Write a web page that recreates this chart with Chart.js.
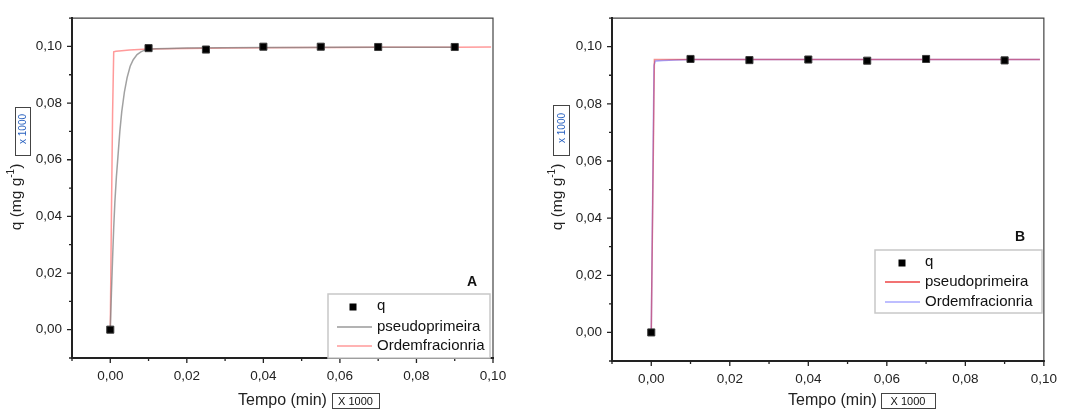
<!DOCTYPE html>
<html>
<head>
<meta charset="utf-8">
<script src="https://cdn.jsdelivr.net/npm/chart.js@4"></script>
<style>
  html, body { margin:0; padding:0; background:#fff; }
  #wrap { position:relative; width:1067px; height:415px; overflow:hidden; }
  #cA { position:absolute; left:0; top:0; }
  #cB { position:absolute; left:540px; top:0; }
</style>
</head>
<body>
<div id="wrap">
  <canvas id="cA" width="533" height="415"></canvas>
  <canvas id="cB" width="527" height="415"></canvas>
</div>
<script>
// Panel A data (time in min x1000, q in mg/g x1000)
const qTimeA = [0, 0.010, 0.025, 0.040, 0.055, 0.070, 0.090];
const qValA  = [0, 0.0994, 0.0989, 0.0999, 0.0999, 0.0998, 0.0998];
const pseudoTimeA = [0, 0.0003, 0.0006, 0.0009, 0.0012, 0.0016, 0.002, 0.0025, 0.003, 0.0037, 0.0044, 0.0052, 0.006, 0.007, 0.008, 0.009, 0.010, 0.012, 0.015, 0.02, 0.03, 0.04, 0.05, 0.06, 0.07, 0.08, 0.09];
const pseudoValA  = [0, 0.013, 0.025, 0.036, 0.045, 0.054, 0.061, 0.070, 0.077, 0.084, 0.089, 0.093, 0.0953, 0.0971, 0.0981, 0.0987, 0.0990, 0.0992, 0.0993, 0.0994, 0.0995, 0.0996, 0.0996, 0.0997, 0.0997, 0.0997, 0.0997];
const fracTimeA = [0, 0.0003, 0.0006, 0.0009, 0.0015, 0.003, 0.005, 0.0075, 0.010, 0.015, 0.02, 0.03, 0.04, 0.05, 0.06, 0.07, 0.08, 0.09, 0.0995];
const fracValA  = [0, 0.040, 0.076, 0.0981, 0.0983, 0.0985, 0.0987, 0.0989, 0.0991, 0.0992, 0.0993, 0.0994, 0.0995, 0.0996, 0.0996, 0.0997, 0.0997, 0.0997, 0.0998];

// Panel B data
const qTimeB = [0, 0.010, 0.025, 0.040, 0.055, 0.070, 0.090];
const qValB  = [0, 0.0957, 0.0953, 0.0955, 0.0951, 0.0957, 0.0952];
const pseudoTimeB = [0, 0.0008, 0.005, 0.02, 0.04, 0.06, 0.08, 0.099];
const pseudoValB  = [0, 0.0955, 0.0955, 0.0955, 0.0955, 0.0955, 0.0955, 0.0955];
const fracTimeB = [0, 0.0007, 0.001, 0.003, 0.006, 0.010, 0.03, 0.06, 0.099];
const fracValB  = [0, 0.0935, 0.0950, 0.0952, 0.0953, 0.0955, 0.0955, 0.0955, 0.0955];

const legendLabels = ['q', 'pseudoprimeira', 'Ordemfracionria'];
const FONT = '"Liberation Sans", Arial, sans-serif';

function pts(xs, ys){ return xs.map((x,i)=>({x, y:ys[i]})); }
function fmt(v){
  if(Math.abs(Math.round(v*100)) % 2 !== 0) return '';
  if(Math.abs(v) < 1e-9) return '0,00';
  return v.toFixed(2).replace('.', ',');
}

function yTitle(ctx, cx, cy){
  ctx.save();
  ctx.translate(cx, cy);
  ctx.rotate(-Math.PI/2);
  ctx.textAlign = 'left';
  const f = '15.5px ' + FONT, fs = '10px ' + FONT;
  ctx.font = f;
  const w1 = ctx.measureText('q (mg g').width, w3 = ctx.measureText(')').width;
  ctx.font = fs;
  const w2 = ctx.measureText('-1').width;
  let x = -(w1 + w2 + w3) / 2;
  ctx.textBaseline = 'middle';
  ctx.fillStyle = '#222';
  ctx.font = f;  ctx.fillText('q (mg g', x, 0); x += w1;
  ctx.font = fs; ctx.fillText('-1', x, -6);    x += w2;
  ctx.font = f;  ctx.fillText(')', x, 0);
  ctx.restore();
}

function decorPlugin(p){
  return {
    id:'decor',
    afterDraw(chart){
      const ctx = chart.ctx, a = chart.chartArea;
      const xs = chart.scales.x, ys = chart.scales.y;
      ctx.save();
      // frame
      ctx.strokeStyle = '#444'; ctx.lineWidth = 1.2;
      ctx.beginPath();
      ctx.moveTo(a.left, a.top); ctx.lineTo(a.right, a.top); ctx.lineTo(a.right, a.bottom);
      ctx.stroke();
      // axis lines
      ctx.strokeStyle = '#222'; ctx.lineWidth = 2;
      ctx.beginPath();
      ctx.moveTo(a.left, a.top - 1); ctx.lineTo(a.left, a.bottom); ctx.lineTo(a.right + 1, a.bottom);
      ctx.stroke();
      // ticks (major 0.02, minor 0.01)
      ctx.lineWidth = 1.3;
      ctx.beginPath();
      xs.ticks.forEach(t=>{
        const px = xs.getPixelForValue(t.value);
        const len = fmt(t.value) ? 5 : 3;
        ctx.moveTo(px, a.bottom); ctx.lineTo(px, a.bottom + len);
      });
      ys.ticks.forEach(t=>{
        const py = ys.getPixelForValue(t.value);
        const len = fmt(t.value) ? 5 : 3;
        ctx.moveTo(a.left, py); ctx.lineTo(a.left - len, py);
      });
      ctx.stroke();

      // legend
      const L = p.legend;
      ctx.fillStyle = '#fff';
      ctx.fillRect(L.x, L.y, L.w, L.h);
      ctx.strokeStyle = '#c8c8c8'; ctx.lineWidth = 1.5;
      ctx.strokeRect(L.x, L.y, L.w, L.h);
      ctx.font = '15px ' + FONT; ctx.textBaseline = 'middle'; ctx.textAlign = 'left';
      ctx.fillStyle = '#000';
      ctx.fillRect(L.marker - 3.5, L.rows[0] - 3.5, 7, 7);
      ctx.lineWidth = 1.3;
      ctx.strokeStyle = p.col1; ctx.beginPath(); ctx.moveTo(L.l1, L.rows[1]); ctx.lineTo(L.l2, L.rows[1]); ctx.stroke();
      ctx.strokeStyle = p.col2; ctx.beginPath(); ctx.moveTo(L.l1, L.rows[2]); ctx.lineTo(L.l2, L.rows[2]); ctx.stroke();
      ctx.fillStyle = '#111';
      legendLabels.forEach((s,i)=> ctx.fillText(s, L.tx, L.rows[i] + (i===0 ? -1 : 0)));

      // panel letter
      ctx.font = 'bold 14px ' + FONT; ctx.textAlign = 'center';
      ctx.fillText(p.letter, p.letterX, p.letterY);

      // axis titles
      yTitle(ctx, p.yTitleX, 197);
      ctx.font = '16px ' + FONT; ctx.textAlign = 'left'; ctx.textBaseline = 'middle'; ctx.fillStyle = '#222';
      ctx.fillText('Tempo (min)', p.xTitleX, 401);

      // x multiplier box
      const B = p.xBox;
      ctx.strokeStyle = '#444'; ctx.lineWidth = 1;
      ctx.strokeRect(B.x + 0.5, B.y + 0.5, B.w, B.h);
      ctx.font = '11px ' + FONT; ctx.textAlign = 'center'; ctx.fillStyle = '#111';
      ctx.fillText('X 1000', B.x + B.w/2, B.y + B.h/2 + 1);

      // y multiplier box
      const Y = p.yBox;
      ctx.strokeRect(Y.x + 0.5, Y.y + 0.5, Y.w, Y.h);
      ctx.save();
      ctx.beginPath(); ctx.rect(Y.x + 1, Y.y + 1, Y.w - 1, Y.h - 1); ctx.clip();
      ctx.translate(Y.x + Y.w/2 + 1, Y.y + Y.h/2);
      ctx.rotate(-Math.PI/2);
      ctx.font = '10px ' + FONT; ctx.fillStyle = '#2a62c0';
      ctx.fillText('x 1000', 2, 0);
      ctx.restore();
      ctx.restore();
    }
  };
}

function makeChart(id, p){
  const tickFont = {family: FONT, size: 13.5};
  return new Chart(document.getElementById(id), {
    type: 'scatter',
    data: {
      datasets: [
        {label: legendLabels[0], data: pts(p.qT, p.qV), pointStyle: 'rect', pointRadius: 5,
         backgroundColor: '#000', borderColor: '#3a3a3a', borderWidth: 1, order: 0},
        {label: legendLabels[1], data: pts(p.l1T, p.l1V), showLine: true, pointRadius: 0,
         borderColor: p.col1Line, borderWidth: 1.5, order: p.order1},
        {label: legendLabels[2], data: pts(p.l2T, p.l2V), showLine: true, pointRadius: 0,
         borderColor: p.col2Line, borderWidth: 1.5, order: p.order2}
      ]
    },
    options: {
      responsive: false,
      animation: false,
      layout: {padding: {left: 0, right: p.padRight, top: p.padTop, bottom: 0}},
      plugins: {legend: {display: false}, tooltip: {enabled: false}},
      scales: {
        x: {type: 'linear', min: -0.01, max: 0.10,
            ticks: {stepSize: 0.01, autoSkip: false, maxRotation: 0, padding: 10, color: '#222', font: tickFont, callback: fmt},
            grid: {display: false, drawTicks: false}, border: {display: false},
            afterFit: s => { s.height = p.xH; }},
        y: {type: 'linear', min: -0.01, max: 0.11,
            ticks: {stepSize: 0.01, autoSkip: false, padding: 10, color: '#222', font: tickFont, callback: fmt},
            grid: {display: false, drawTicks: false}, border: {display: false},
            afterFit: s => { s.width = 72; }}
      }
    },
    plugins: [decorPlugin(p)]
  });
}

makeChart('cA', {
  qT: qTimeA, qV: qValA, l1T: pseudoTimeA, l1V: pseudoValA, l2T: fracTimeA, l2V: fracValA,
  col1: '#9a9a9a', col2: '#ff9a9a',
  col1Line: 'rgba(130,130,130,0.75)', col2Line: 'rgba(255,120,120,0.75)',
  order1: 1, order2: 2,
  padRight: 40, padTop: 13, xH: 57,
  legend: {x: 328, y: 294, w: 162, h: 64, rows: [307, 327, 346], marker: 353, l1: 337, l2: 372, tx: 377},
  letter: 'A', letterX: 472, letterY: 282,
  yTitleX: 17, xTitleX: 238,
  xBox: {x: 332, y: 393, w: 47, h: 15},
  yBox: {x: 15, y: 107, w: 15, h: 48}
});

makeChart('cB', {
  qT: qTimeB, qV: qValB, l1T: pseudoTimeB, l1V: pseudoValB, l2T: fracTimeB, l2V: fracValB,
  col1: '#ee4444', col2: '#a8a8ff',
  col1Line: 'rgba(230,40,40,0.5)', col2Line: 'rgba(150,150,255,0.9)',
  order1: 1, order2: 2,
  padRight: 23, padTop: 8, xH: 54,
  legend: {x: 335, y: 250, w: 167, h: 63, rows: [263, 282, 302], marker: 362, l1: 345, l2: 380, tx: 385},
  letter: 'B', letterX: 480, letterY: 237,
  yTitleX: 18, xTitleX: 248,
  xBox: {x: 341, y: 393, w: 54, h: 15},
  yBox: {x: 13, y: 105, w: 16, h: 50}
});
</script>
</body>
</html>
